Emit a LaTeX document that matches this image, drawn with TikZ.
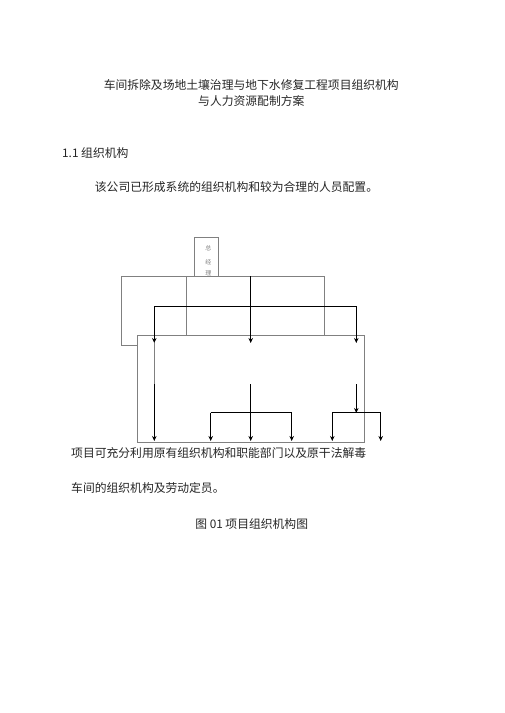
\documentclass[tikz,border=0pt]{standalone}
\usepackage{fontspec}
\setmainfont{Noto Sans CJK SC}
\usetikzlibrary{arrows.meta}
\begin{document}
\begin{tikzpicture}[x=1pt,y=-1pt,
 box/.style={draw=black!50, line width=0.6pt},
 arr/.style={draw=black, line width=1.0pt, -{Stealth[length=5pt,width=4.5pt]}},
 ln/.style={draw=black, line width=1.0pt},
 txt/.style={inner sep=0pt, font=\fontsize{11.8}{14}\selectfont, text=black!85},
 tiny/.style={inner sep=0pt, font=\fontsize{6}{7}\selectfont, text=black!50},
]
\useasboundingbox[fill=white] (0,0) rectangle (504,713);

% texts
\node[txt] (t1) at (251.3,85) {车间拆除及场地土壤治理与地下水修复工程项目组织机构};
\node[txt] (t2) at (251.3,100.7) {与人力资源配制方案};
\node[txt,anchor=west] (h1) at (62,153) {1.1 组织机构};
\node[txt,anchor=west] (p1) at (94.7,187.3) {该公司已形成系统的组织机构和较为合理的人员配置。};
\node[txt,anchor=west] (p2) at (71,452.7) {项目可充分利用原有组织机构和职能部门以及原干法解毒};
\node[txt,anchor=west] (p3) at (71,487.7) {车间的组织机构及劳动定员。};
\node[txt] (cap) at (251.7,524) {图 01 项目组织机构图};

% top box
\node[box, minimum width=24pt, minimum height=38.7pt, anchor=north west, inner sep=0pt] (ceo) at (194.3,237.3) {};
\node[tiny] (c1) at (208.3,248.3) {总};
\node[tiny] (c2) at (208.3,261.7) {经};
\node[tiny] (c3) at (208.3,273) {理};

% upper frame
\coordinate (ul) at (121.7,276);
\coordinate (ur) at (324.3,276);
\coordinate (urb) at (324.3,335);
\coordinate (ulb) at (121.7,345.7);
\coordinate (lj) at (137,345.7);
\coordinate (d1t) at (186,276);
\coordinate (d1b) at (186,335);
\draw[box] (ulb) -- (ul) -- (ur) -- (urb);
\draw[box] (ulb) -- (lj);
\draw[box] (d1t) -- (d1b);

% lower frame
\node[box, minimum width=227.3pt, minimum height=106.7pt, anchor=north west, inner sep=0pt] (low) at (137,335) {};

% arrows level 1
\coordinate (h1l) at (154.3,306);
\coordinate (h1r) at (356.3,306);
\coordinate (mtop) at (250.7,276);
\coordinate (a1) at (154.3,343);
\coordinate (a2) at (250.7,343);
\coordinate (a3) at (356.3,343);
\draw[ln] (h1l) -- (h1r);
\draw[arr] (h1l) -- (a1);
\draw[arr] (mtop) -- (a2);
\draw[arr] (h1r) -- (a3);
\coordinate (g1) at (154.3,384);
\draw[box] (a1) -- (g1);

% level 2
\coordinate (b1) at (154.3,441);
\coordinate (m2) at (250.7,384);
\coordinate (b3) at (250.7,441);
\draw[arr] (g1) -- (b1);
\draw[arr] (m2) -- (b3);
\coordinate (hml) at (210.7,412.7);
\coordinate (hmr) at (291.7,412.7);
\coordinate (b2) at (210.7,441);
\coordinate (b4) at (291.7,441);
\draw[ln] (hml) -- (hmr);
\draw[arr] (hml) -- (b2);
\draw[arr] (hmr) -- (b4);

\coordinate (r2) at (356.3,384);
\coordinate (r3) at (356.3,413);
\draw[arr] (r2) -- (r3);
\coordinate (hrl) at (332.3,412.7);
\coordinate (hrr) at (380.7,412.7);
\coordinate (b5) at (332.3,441);
\coordinate (b6) at (380.7,441);
\draw[ln] (hrl) -- (hrr);
\draw[arr] (hrl) -- (b5);
\draw[arr] (hrr) -- (b6);
\end{tikzpicture}
\end{document}
